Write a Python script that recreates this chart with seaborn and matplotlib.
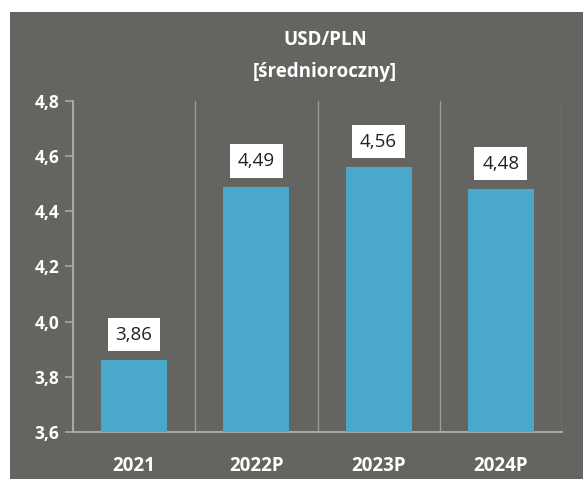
import numpy as np
import pandas as pd
import matplotlib
matplotlib.use("Agg")
import matplotlib.pyplot as plt
import seaborn as sns
from matplotlib.patches import Rectangle

# dane
lata = ["2021", "2022P", "2023P", "2024P"]
kurs = [3.86, 4.49, 4.56, 4.48]
etykiety = ["3,86", "4,49", "4,56", "4,48"]
y_ticks = [3.6, 3.8, 4.0, 4.2, 4.4, 4.6, 4.8]
y_labels = ["3,6", "3,8", "4,0", "4,2", "4,4", "4,6", "4,8"]

sns.set_theme(style="white")
plt.rcParams['font.family'] = ['Open Sans', 'DejaVu Sans']

tlo = "#646460"
kolor = "#4aa8cb"
linia = "#a8a8a4"

df = pd.DataFrame({"rok": lata, "kurs": kurs})

fig = plt.figure(figsize=(5.83, 4.79), dpi=100, facecolor="white")
# szare tlo panelu
fig.patches.append(Rectangle((10/583, 0), 1, 1 - 12/479, transform=fig.transFigure,
                             facecolor=tlo, edgecolor="none", zorder=-10))

ax = fig.add_axes([73/583, 47/479, (562-73)/583, (432-101)/479])
ax.set_facecolor(tlo)

sns.barplot(data=df, x="rok", y="kurs", color=kolor, width=0.54, saturation=1,
            linewidth=0, ax=ax, zorder=3)

ax.set_ylim(3.6, 4.8)
ax.set_xlim(-0.5, 3.5)
ax.set_yticks(y_ticks)
ax.set_yticklabels(y_labels)
ax.set_xlabel("")
ax.set_ylabel("")

# pionowe linie miedzy kategoriami
for xb in [0.5, 1.5, 2.5, 3.5]:
    ax.axvline(xb, color="#9c9c98", lw=1.0, zorder=1)

for s in ["top", "right"]:
    ax.spines[s].set_visible(False)
for s in ["left", "bottom"]:
    ax.spines[s].set_color(linia)
    ax.spines[s].set_linewidth(1.5)

ax.tick_params(axis="y", which="both", left=True, length=6, width=1.2, color=linia,
               labelcolor="white", labelsize=12.5, pad=4)
ax.tick_params(axis="x", bottom=False, labelcolor="white", labelsize=13.5, pad=11)
for t in ax.get_yticklabels() + ax.get_xticklabels():
    t.set_fontweight("bold")

for i, (v, lab) in enumerate(zip(kurs, etykiety)):
    ax.annotate(lab, (i, v), xytext=(0, 12), textcoords="offset points",
                ha="center", va="bottom", fontsize=13.5, color="#222222",
                bbox=dict(boxstyle="square,pad=0.42", facecolor="white", edgecolor="none"),
                zorder=5)

fig.text(325/583, 1 - 40/479, "USD/PLN", ha="center", va="center", color="white",
         fontsize=13.5, fontweight="bold")
fig.text(325/583, 1 - 72/479, "[średnioroczny]", ha="center", va="center", color="white",
         fontsize=13.5, fontweight="bold")

fig.savefig("out.png", dpi=100, facecolor="white")
